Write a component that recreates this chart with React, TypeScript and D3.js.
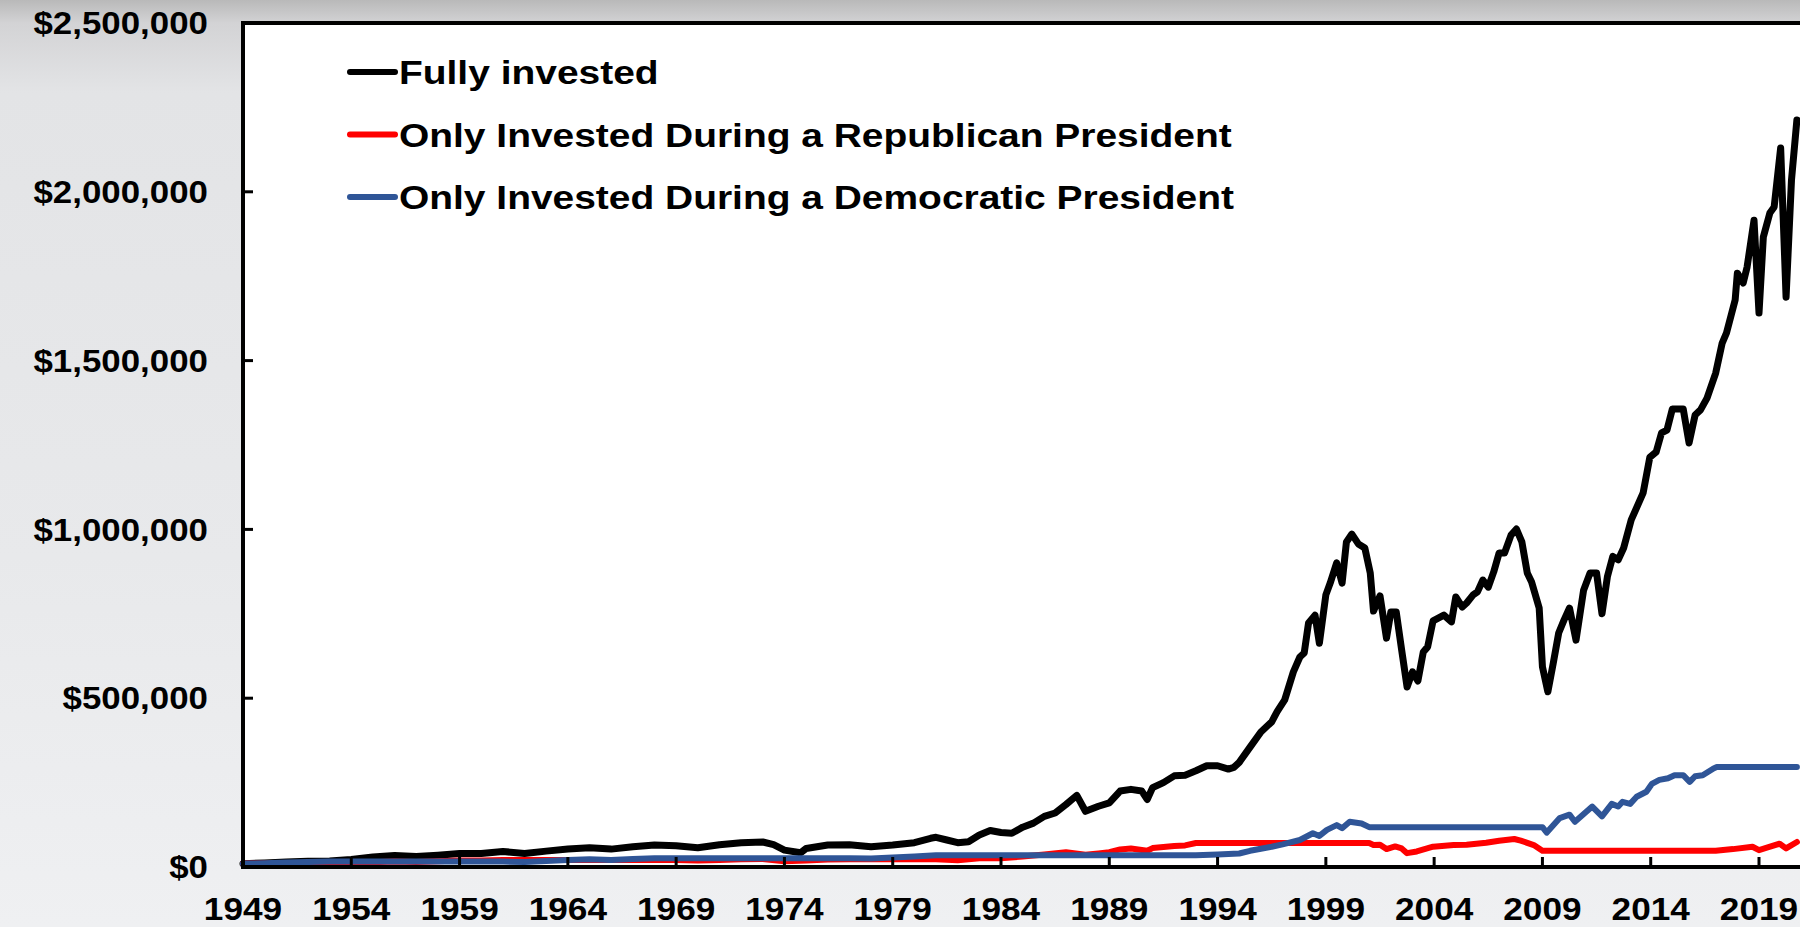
import React from 'react';
import * as d3 from 'd3';

// values in $ thousands, [year, value]
const fullyInvested: [number, number][] = [
  [1949, 10], [1950, 12], [1951, 15], [1952, 17], [1953, 18], [1954, 22], [1955, 30], [1956, 34],
  [1957, 31], [1958, 35], [1959, 40], [1960, 40], [1961, 46], [1962, 40], [1963, 47], [1964, 53],
  [1965, 57], [1966, 53], [1967, 60], [1968, 65], [1969, 63], [1970, 57], [1971, 66], [1972, 72],
  [1973, 74], [1973.5, 66], [1974, 50], [1974.75, 42], [1975, 55], [1976, 65], [1977, 66], [1978, 60],
  [1979, 65], [1980, 72], [1980.75, 85], [1981, 88], [1981.5, 80], [1982, 72], [1982.5, 75], [1983, 95],
  [1983.5, 108], [1984, 102], [1984.5, 100], [1985, 118], [1985.5, 130], [1986, 150], [1986.5, 160],
  [1987, 185], [1987.5, 212], [1987.9, 165], [1988.5, 180], [1989, 190], [1989.5, 225], [1990, 230],
  [1990.5, 225], [1990.75, 200], [1991, 235], [1991.5, 250], [1992, 270], [1992.5, 272], [1993, 285],
  [1993.5, 300], [1994, 300], [1994.5, 290], [1994.75, 295], [1995, 310], [1995.5, 355], [1996, 400],
  [1996.5, 430], [1996.75, 460], [1997.1, 495], [1997.5, 578], [1997.8, 622], [1998, 634], [1998.2, 723],
  [1998.5, 746], [1998.7, 663], [1999, 806], [1999.2, 841], [1999.5, 901], [1999.75, 841], [1999.95, 963],
  [2000.2, 986], [2000.5, 957], [2000.8, 945], [2001.05, 871], [2001.2, 758], [2001.5, 803], [2001.8, 678],
  [2002, 755], [2002.25, 755], [2002.5, 643], [2002.75, 533], [2003, 578], [2003.25, 551], [2003.5, 637],
  [2003.7, 652], [2003.95, 729], [2004.45, 746], [2004.8, 726], [2005, 800], [2005.3, 770], [2005.5, 782],
  [2005.8, 806], [2006, 815], [2006.25, 850], [2006.5, 829], [2006.75, 874], [2007, 930], [2007.25, 930],
  [2007.55, 983], [2007.8, 1001], [2008.05, 963], [2008.3, 871], [2008.5, 844], [2008.85, 767],
  [2009, 593], [2009.25, 519], [2009.5, 604], [2009.75, 693], [2010, 732], [2010.25, 767], [2010.55, 672],
  [2010.9, 820], [2011.2, 871], [2011.5, 871], [2011.75, 750], [2012, 860], [2012.25, 920], [2012.5, 910],
  [2012.75, 945], [2013.1, 1028], [2013.65, 1108], [2013.96, 1214], [2014.25, 1229], [2014.5, 1286],
  [2014.75, 1294], [2015, 1357], [2015.5, 1357], [2015.77, 1256], [2016.05, 1339], [2016.3, 1354],
  [2016.6, 1389], [2017, 1463], [2017.3, 1552], [2017.5, 1582], [2017.9, 1680], [2018, 1759],
  [2018.27, 1730], [2018.45, 1777], [2018.77, 1916], [2019, 1641], [2019.2, 1866], [2019.5, 1937],
  [2019.7, 1955], [2020, 2130], [2020.25, 1688], [2020.5, 2035], [2020.75, 2213],
];

const republican: [number, number][] = [
  [1949, 10], [1953, 10], [1954, 11], [1955, 14], [1956, 16], [1957, 15], [1958, 17], [1959, 19],
  [1960, 19], [1961, 21], [1969, 21], [1970, 19], [1971, 21], [1972, 23], [1973, 24], [1974, 17],
  [1975, 19], [1976, 22], [1977, 23], [1981, 23], [1982, 20], [1983, 26], [1984, 26], [1985, 31],
  [1986, 37], [1987, 44], [1987.9, 36], [1988.5, 40], [1989, 44], [1989.5, 52], [1990, 55],
  [1990.75, 48], [1991, 56], [1992, 62], [1992.5, 64], [1993, 71], [2001, 71], [2001.2, 65],
  [2001.5, 66], [2001.8, 53], [2002.2, 61], [2002.5, 55], [2002.75, 41], [2003.2, 46], [2003.95, 60],
  [2004.9, 65], [2005.5, 66], [2006.4, 72], [2007, 78], [2007.7, 83], [2008, 78], [2008.6, 65],
  [2009, 48], [2017, 48], [2017.8, 53], [2018.7, 60], [2019, 50], [2019.4, 58], [2019.95, 69],
  [2020.25, 55], [2020.75, 74],
];

const democratic: [number, number][] = [
  [1949, 10], [1950, 11], [1951, 13], [1952, 15], [1953, 16], [1961, 16], [1962, 15], [1963, 18],
  [1964, 21], [1965, 23], [1966, 21], [1967, 24], [1968, 26], [1969, 26], [1977, 26], [1978, 25],
  [1979, 28], [1980, 31], [1981, 35], [1993, 35], [1994, 37], [1995, 40], [1995.5, 48], [1996, 54],
  [1996.5, 60], [1997, 67], [1997.8, 80], [1998.4, 100], [1998.7, 92], [1999.05, 110], [1999.5, 124],
  [1999.75, 115], [2000.1, 134], [2000.65, 129], [2001, 118], [2009, 118], [2009.2, 102],
  [2009.8, 145], [2010.25, 155], [2010.5, 134], [2011.3, 179], [2011.75, 150], [2012.2, 187],
  [2012.5, 179], [2012.7, 193], [2013.05, 187], [2013.35, 208], [2013.8, 223], [2014.05, 246],
  [2014.4, 258], [2014.8, 263], [2015.1, 272], [2015.5, 272], [2015.8, 252], [2016.05, 269],
  [2016.4, 272], [2016.9, 292], [2017.05, 296], [2020.75, 296],
];

const yTicks = [0, 500000, 1000000, 1500000, 2000000, 2500000];
const xTicks = [1949, 1954, 1959, 1964, 1969, 1974, 1979, 1984, 1989, 1994, 1999, 2004, 2009, 2014, 2019];

const series = [
  { name: 'Fully invested', data: fullyInvested, color: '#000000', width: 7 },
  { name: 'Only Invested During a Republican President', data: republican, color: '#ff0000', width: 6 },
  { name: 'Only Invested During a Democratic President', data: democratic, color: '#2f5597', width: 6 },
];

const W = 1800;
const H = 927;
const left = 243;
const top = 23;
const bottom = 867;
const font = '"Liberation Sans", Arial, Helvetica, sans-serif';

export default function App() {
  const x = d3.scaleLinear().domain([1949, 2019]).range([left, 1759]);
  const y = d3.scaleLinear().domain([0, 2500000]).range([bottom, top]);
  const line = d3
    .line<[number, number]>()
    .x((d) => x(d[0]))
    .y((d) => y(d[1] * 1000));
  const fmt = d3.format('$,.0f');

  return (
    <svg
      width={W}
      height={H}
      style={{ position: 'absolute', left: 0, top: 0, display: 'block' }}
      fontFamily={font}
      fontWeight="bold"
    >
      <defs>
        <linearGradient id="bg" x1="0" y1="0" x2="0" y2="1">
          <stop offset="0" stopColor="#b9b9b9" />
          <stop offset="0.025" stopColor="#d3d3d5" />
          <stop offset="0.1" stopColor="#e3e4e6" />
          <stop offset="0.6" stopColor="#e8e9eb" />
          <stop offset="1" stopColor="#eff0f2" />
        </linearGradient>
      </defs>
      <rect width={W} height={H} fill="url(#bg)" />
      <rect x={left} y={top} width={W - left} height={bottom - top} fill="#fff" />

      {/* series */}
      {series.map((s) => (
        <path
          key={s.name}
          d={line(s.data) ?? ''}
          fill="none"
          stroke={s.color}
          strokeWidth={s.width}
          strokeLinejoin="round"
          strokeLinecap="round"
        />
      ))}

      {/* frame */}
      <line x1={left} x2={W} y1={top} y2={top} stroke="#000" strokeWidth={4} />
      <line x1={left} x2={W} y1={bottom} y2={bottom} stroke="#000" strokeWidth={4} />
      <line x1={left} x2={left} y1={top - 2} y2={bottom + 2} stroke="#000" strokeWidth={4} />

      {/* y axis */}
      {yTicks.map((t) => (
        <g key={t}>
          <line x1={left} x2={left + 10} y1={y(t)} y2={y(t)} stroke="#000" strokeWidth={3} />
          <g transform={`translate(208,${y(t)}) scale(1.09,1)`}>
            <text textAnchor="end" dy="0.35em" fontSize={32} fill="#000">
              {fmt(t)}
            </text>
          </g>
        </g>
      ))}

      {/* x axis */}
      {xTicks.map((t) => (
        <g key={t}>
          <line x1={x(t)} x2={x(t)} y1={bottom} y2={bottom - 10} stroke="#000" strokeWidth={3} />
          <g transform={`translate(${x(t)},920) scale(1.1,1)`}>
            <text textAnchor="middle" fontSize={32} fill="#000">
              {t}
            </text>
          </g>
        </g>
      ))}

      {/* legend */}
      {series.map((s, i) => {
        const ly = 72 + i * 62.5;
        return (
          <g key={s.name}>
            <line x1={350} x2={395} y1={ly} y2={ly} stroke={s.color} strokeWidth={6} strokeLinecap="round" />
            <g transform={`translate(399,${ly + 12}) scale(1.18,1)`}>
              <text fontSize={33} fill="#000">
                {s.name}
              </text>
            </g>
          </g>
        );
      })}
    </svg>
  );
}
